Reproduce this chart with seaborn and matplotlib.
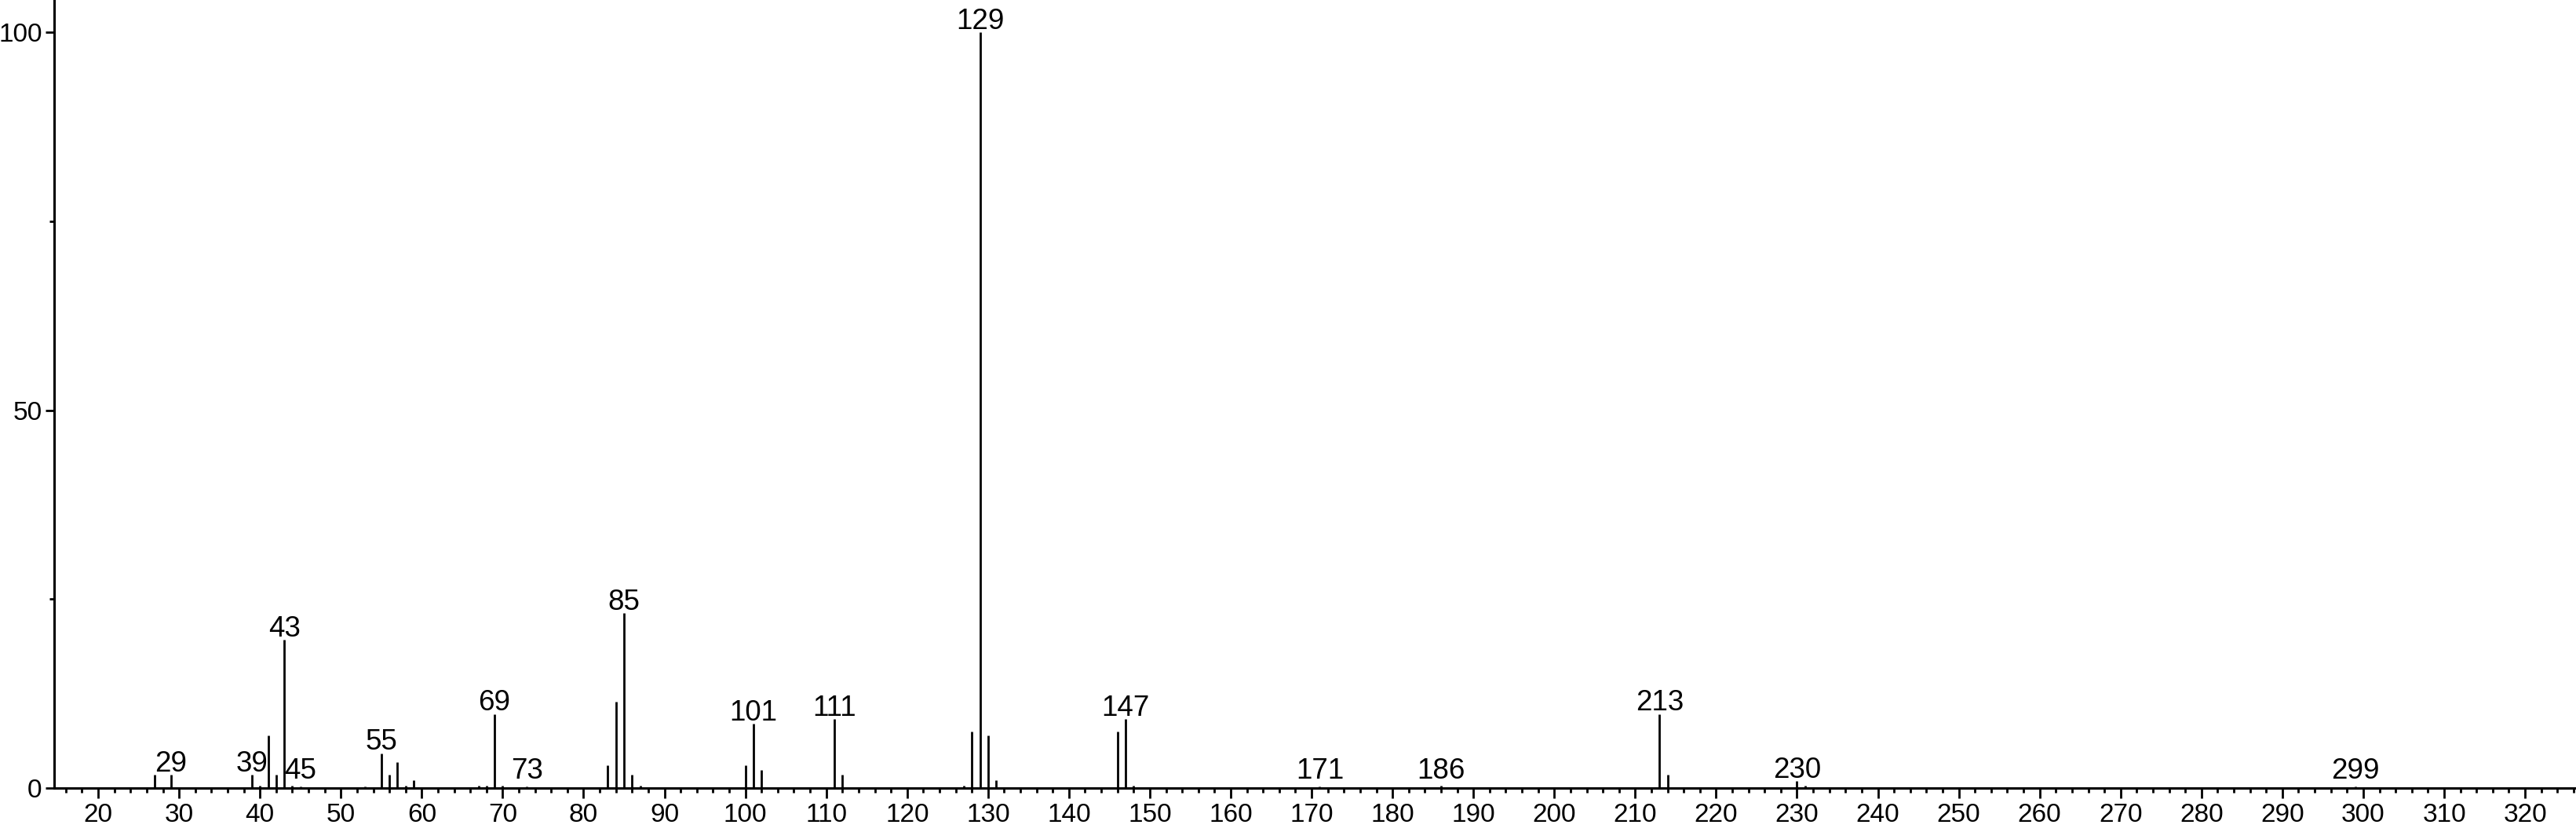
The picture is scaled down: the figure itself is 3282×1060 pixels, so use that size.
import numpy as np
import pandas as pd
import seaborn as sns
import matplotlib
matplotlib.use('Agg')
import matplotlib.pyplot as plt
from matplotlib.ticker import MultipleLocator

# m/z values and relative intensities
mz = [27, 29, 39, 40, 41, 42, 43, 44, 45, 53, 55, 56, 57, 58, 59,
      67, 68, 69, 70, 73, 83, 84, 85, 86, 87, 100, 101, 102, 111, 112,
      127, 128, 129, 130, 131, 146, 147, 148, 171, 186, 213, 214, 230, 231, 299]
intensity = [1.7, 1.7, 1.7, 0.3, 6.9, 1.7, 19.6, 0.3, 0.2, 0.2, 4.6, 1.7, 3.4, 0.3, 1.0,
             0.3, 0.3, 9.8, 0.3, 0.2, 3.0, 11.4, 23.1, 1.7, 0.3, 3.0, 8.5, 2.4, 9.1, 1.7,
             0.3, 7.5, 100.0, 6.9, 1.0, 7.5, 9.1, 0.3, 0.2, 0.3, 9.8, 1.7, 0.9, 0.3, 0.2]
labelled = [29, 39, 43, 45, 55, 69, 73, 85, 101, 111, 129, 147, 171, 186, 213, 230, 299]

df = pd.DataFrame({'mz': mz, 'intensity': intensity})

sns.set_theme(style='ticks')
plt.rcParams['font.family'] = ['Liberation Sans', 'DejaVu Sans']

fig = plt.figure(figsize=(32.82, 10.60), dpi=100)
ax = fig.add_axes([0.021, 0.053, 0.979, 0.947])

ax.vlines(df['mz'], 0, df['intensity'], colors='black', linewidth=2.0)

for m in labelled:
    h = df.loc[df['mz'] == m, 'intensity'].iloc[0]
    ax.annotate(str(m), (m, max(h, 0.8)), xytext=(0, 3), textcoords='offset points',
                ha='center', va='baseline', fontsize=26.5, color='black',
                annotation_clip=False)

ax.set_xlim(14.55, 326.3)
ax.set_ylim(0, 104.3)
ax.xaxis.set_major_locator(MultipleLocator(10))
ax.xaxis.set_minor_locator(MultipleLocator(2))
ax.set_yticks([0, 50, 100])
ax.yaxis.set_minor_locator(MultipleLocator(25))

sns.despine(ax=ax)
for s in ['left', 'bottom']:
    ax.spines[s].set_linewidth(2.2)
    ax.spines[s].set_color('black')

ax.tick_params(axis='both', which='major', direction='out', length=9, width=2,
               labelsize=24, colors='black', pad=5)
ax.tick_params(axis='both', which='minor', direction='out', length=4.5, width=2,
               colors='black')
ax.tick_params(axis='y', which='major', length=8, pad=3)
ax.set_xlabel('')
ax.set_ylabel('')

fig.savefig('out.png', dpi=100)
